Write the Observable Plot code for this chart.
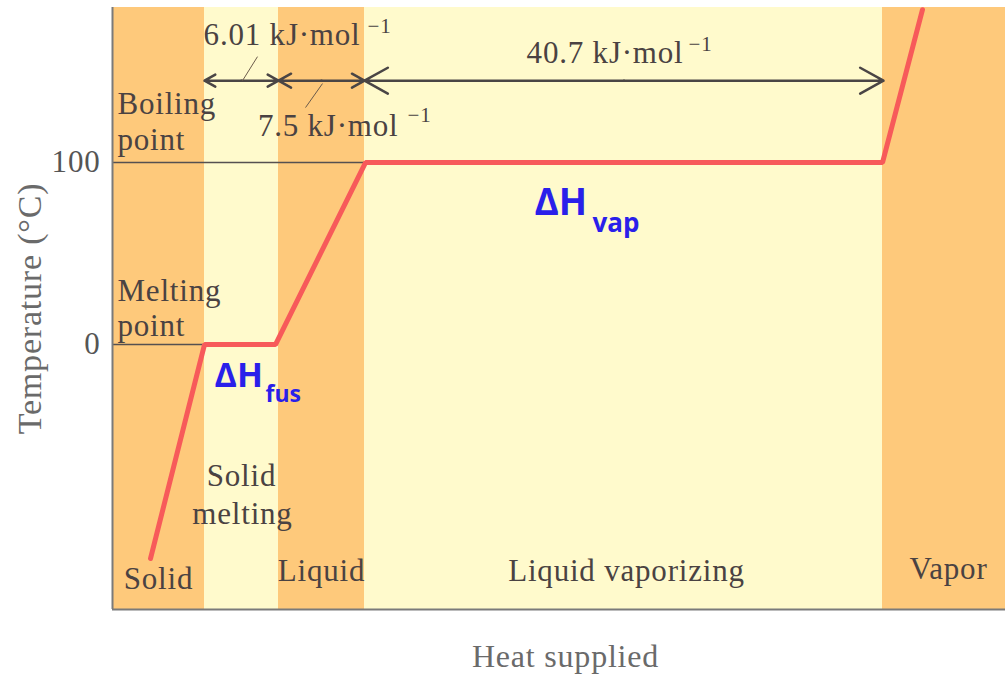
<!DOCTYPE html>
<html>
<head>
<meta charset="utf-8">
<script src="https://cdn.jsdelivr.net/npm/d3@7"></script>
<script src="https://cdn.jsdelivr.net/npm/@observablehq/plot@0.6"></script>
<style>
  html, body { margin: 0; padding: 0; background: #ffffff; }
  #chart { width: 1005px; height: 676px; }
  #chart g[font-family*="Liberation"] text { letter-spacing: 0.8px; }
</style>
</head>
<body>
<div id="chart"></div>
<script>
// ---- data ----
const xDomain = [0, 893];          // heat supplied (arbitrary units)
const yDomain = [-145.6, 185.2];   // temperature (°C)

const phaseNames = ["Solid", "Solid melting", "Liquid", "Liquid vaporizing", "Vapor"];
const phaseStart = [0, 92, 166, 252, 770];
const phaseEnd = [92, 166, 252, 770, 893];
const phaseKind = ["single", "change", "single", "change", "single"];

const heat = [38, 92, 163, 253, 770, 810];
const temp = [-117.6, 0, 0, 100, 100, 184];

const refTemps = [100, 0];
const refEnds = [253, 92];

const yTicks = [0, 100];

const arrowLevel = 145;
const arrowFrom = [92, 166, 252];
const arrowTo = [166, 252, 771];

const enthalpyText = ["6.01 kJ·mol", "7.5 kJ·mol", "40.7 kJ·mol"];
const enthalpyX = [248, 286, 571];
const enthalpyT = [170.3, 120.3, 160.4];
const superX = [255, 295, 576];
const superT = [174.7, 125.8, 164.8];

const leaderX1 = [145, 210];
const leaderT1 = [158.2, 143.4];
const leaderX2 = [130, 193];
const leaderT2 = [145, 130.2];

const pointText = ["Boiling", "point", "Melting", "point"];
const pointT = [131.9, 112.6, 29.1, 9.9];

const phaseLabel = ["Solid", "Solid", "melting", "Liquid", "Liquid vaporizing", "Vapor"];
const phaseLabelX = [46, 129, 130, 209, 514, 836];
const phaseLabelT = [-129.1, -72.5, -92.9, -124.7, -124.7, -123.6];

const dhMain = ["ΔH", "ΔH"];
const dhSub = ["fus", "vap"];
const dhX = [102, 422];
const dhT = [-17.3, 77.5];
const dhSize = [34, 37];
const dhSubX = [153, 480];
const dhSubT = [-27.8, 66.5];
const dhSubSize = [23, 26];

const yTitle = "Temperature (°C)";
const xTitle = "Heat supplied";

// ---- tables ----
const phases = phaseNames.map((n, i) => ({name: n, x1: phaseStart[i], x2: phaseEnd[i], kind: phaseKind[i]}));
const curve = heat.map((h, i) => ({h, t: temp[i]}));
const refs = refTemps.map((t, i) => ({t, x2: refEnds[i]}));
const arrows = [];
arrowFrom.forEach((a, i) => {
  const b = arrowTo[i], m = (a + b) / 2;
  arrows.push({x1: m, x2: a}, {x1: m, x2: b});
});
const enth = enthalpyText.map((s, i) => ({s, x: enthalpyX[i], t: enthalpyT[i], sx: superX[i], st: superT[i]}));
const leaders = leaderX1.map((x, i) => ({x1: x, y1: leaderT1[i], x2: leaderX2[i], y2: leaderT2[i]}));
const points = pointText.map((s, i) => ({s, t: pointT[i]}));
const plabels = phaseLabel.map((s, i) => ({s, x: phaseLabelX[i], t: phaseLabelT[i]}));
const dh = dhMain.map((s, i) => ({s, sub: dhSub[i], x: dhX[i], t: dhT[i], size: dhSize[i], sx: dhSubX[i], st: dhSubT[i], ssize: dhSubSize[i]}));

const serif = "'Liberation Serif', 'DejaVu Serif', serif";
const sans = "'Open Sans', 'Noto Sans', sans-serif";
const ink = "#4a4242";
const blue = "#2a1fea";

const chart = Plot.plot({
  width: 1005,
  height: 676,
  marginLeft: 112,
  marginRight: 0,
  marginTop: 7,
  marginBottom: 67,
  style: {fontFamily: serif, background: "#ffffff", overflow: "visible"},
  x: {domain: xDomain, axis: null},
  y: {domain: yDomain, axis: null},
  marks: [
    Plot.rect(phases, {
      x1: "x1", x2: "x2", y1: yDomain[0], y2: yDomain[1],
      fill: d => d.kind === "single" ? "#fec97b" : "#fffacc"
    }),
    Plot.ruleY(refs, {y: "t", x1: 0, x2: "x2", stroke: "#555050", strokeWidth: 1.5}),
    Plot.ruleX([0], {stroke: "#7a7a7a", strokeWidth: 2}),
    Plot.ruleY([yDomain[0]], {stroke: "#7a7a7a", strokeWidth: 2}),
    Plot.axisY({
      ticks: yTicks, tickSize: 0, tickPadding: 12, label: null,
      fontSize: 31, fontFamily: serif, fill: "#555"
    }),
    Plot.line(curve, {x: "h", y: "t", stroke: "#f75a5a", strokeWidth: 5, strokeLinejoin: "miter"}),
    Plot.arrow(arrows, {
      x1: "x1", x2: "x2", y1: arrowLevel, y2: arrowLevel,
      bend: 0, headLength: 16, headAngle: 58, stroke: "#4a4545", strokeWidth: 2.5
    }),
    Plot.link(leaders, {x1: "x1", y1: "y1", x2: "x2", y2: "y2", stroke: "#6b5b4b", strokeWidth: 1}),
    Plot.text(enth, {x: "x", y: "t", text: "s", textAnchor: "end", fontSize: 31, fill: ink, fontFamily: serif}),
    Plot.text(enth, {x: "sx", y: "st", text: () => "−1", textAnchor: "start", fontSize: 21, fill: ink, fontFamily: serif}),
    Plot.text(points, {x: 5, y: "t", text: "s", textAnchor: "start", fontSize: 31, fill: ink, fontFamily: serif}),
    Plot.text(plabels, {x: "x", y: "t", text: "s", textAnchor: "middle", fontSize: 31, fill: ink, fontFamily: serif}),
    Plot.text(dh, {x: "x", y: "t", text: "s", textAnchor: "start", fontSize: d => d.size, fill: blue, fontWeight: "bold", fontFamily: sans}),
    Plot.text(dh, {x: "sx", y: "st", text: "sub", textAnchor: "start", fontSize: d => d.ssize, fill: blue, fontWeight: "bold", fontFamily: sans}),
    Plot.text([yTitle], {frameAnchor: "left", dx: -82, rotate: -90, textAnchor: "middle", text: d => d, fontSize: 34, fill: "#6a6a6a", fontFamily: serif}),
    Plot.text([xTitle], {x: [453], frameAnchor: "bottom", dy: 57, textAnchor: "middle", text: d => d, fontSize: 32, fill: "#6a6a6a", fontFamily: serif})
  ]
});
document.getElementById("chart").appendChild(chart);
</script>
</body>
</html>
